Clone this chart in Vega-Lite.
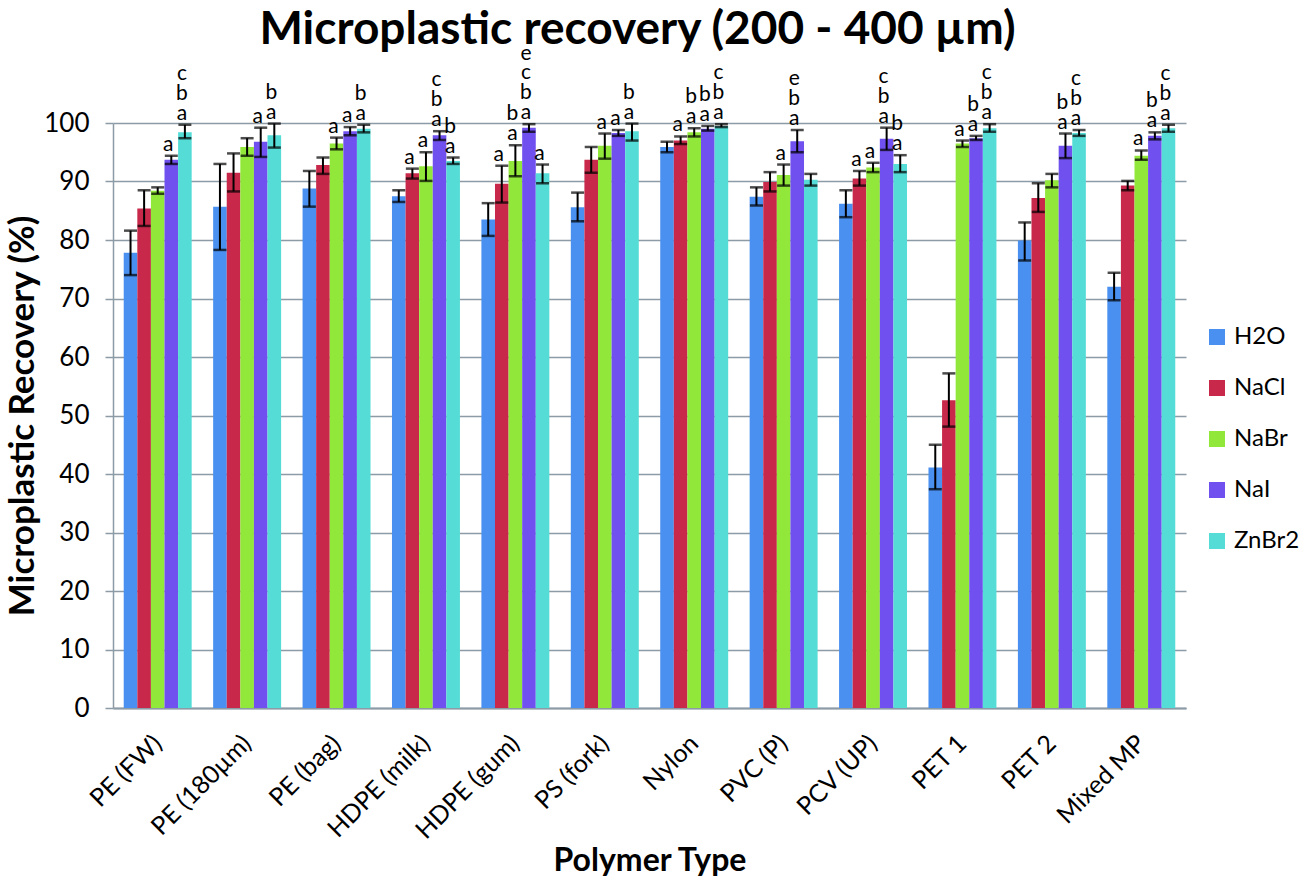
{
  "$schema": "https://vega.github.io/schema/vega-lite/v6.json",
  "width": 1073,
  "height": 585,
  "autosize": {"type": "none"},
  "padding": {"left": 113, "top": 123, "right": 113, "bottom": 174},
  "background": "white",
  "config": {"font": "Lato", "view": {"stroke": null}},
  "title": {
    "text": "Microplastic recovery (200 - 400 µm)",
    "fontSize": 46,
    "fontWeight": "bold",
    "color": "black",
    "anchor": "middle",
    "baseline": "alphabetic",
    "offset": -47,
    "dx": -12
  },
  "data": {
    "values": [
      {"cat": "PE (FW)", "sol": "H2O", "v": 77.8, "lo": 74.0, "hi": 81.6, "s1": "", "s2": "", "s3": "", "s4": ""},
      {"cat": "PE (FW)", "sol": "NaCl", "v": 85.4, "lo": 82.4, "hi": 88.5, "s1": "", "s2": "", "s3": "", "s4": ""},
      {"cat": "PE (FW)", "sol": "NaBr", "v": 88.4, "lo": 87.9, "hi": 89.0, "s1": "", "s2": "", "s3": "", "s4": ""},
      {"cat": "PE (FW)", "sol": "NaI", "v": 93.7, "lo": 93.0, "hi": 94.4, "s1": "a", "s2": "", "s3": "", "s4": ""},
      {"cat": "PE (FW)", "sol": "ZnBr2", "v": 98.4, "lo": 97.4, "hi": 99.7, "s1": "a", "s2": "b", "s3": "c", "s4": ""},
      {"cat": "PE (180µm)", "sol": "H2O", "v": 85.7, "lo": 78.3, "hi": 93.0, "s1": "", "s2": "", "s3": "", "s4": ""},
      {"cat": "PE (180µm)", "sol": "NaCl", "v": 91.5, "lo": 88.3, "hi": 94.8, "s1": "", "s2": "", "s3": "", "s4": ""},
      {"cat": "PE (180µm)", "sol": "NaBr", "v": 95.9, "lo": 94.4, "hi": 97.4, "s1": "", "s2": "", "s3": "", "s4": ""},
      {"cat": "PE (180µm)", "sol": "NaI", "v": 96.8, "lo": 94.2, "hi": 99.2, "s1": "a", "s2": "", "s3": "", "s4": ""},
      {"cat": "PE (180µm)", "sol": "ZnBr2", "v": 97.9, "lo": 95.8, "hi": 99.9, "s1": "a", "s2": "b", "s3": "", "s4": ""},
      {"cat": "PE (bag)", "sol": "H2O", "v": 88.8, "lo": 85.7, "hi": 91.8, "s1": "", "s2": "", "s3": "", "s4": ""},
      {"cat": "PE (bag)", "sol": "NaCl", "v": 92.8, "lo": 91.3, "hi": 94.1, "s1": "", "s2": "", "s3": "", "s4": ""},
      {"cat": "PE (bag)", "sol": "NaBr", "v": 96.5, "lo": 95.5, "hi": 97.5, "s1": "a", "s2": "", "s3": "", "s4": ""},
      {"cat": "PE (bag)", "sol": "NaI", "v": 98.6, "lo": 97.9, "hi": 99.3, "s1": "a", "s2": "", "s3": "", "s4": ""},
      {"cat": "PE (bag)", "sol": "ZnBr2", "v": 99.0, "lo": 98.4, "hi": 99.7, "s1": "a", "s2": "b", "s3": "", "s4": ""},
      {"cat": "HDPE (milk)", "sol": "H2O", "v": 87.5, "lo": 86.5, "hi": 88.5, "s1": "", "s2": "", "s3": "", "s4": ""},
      {"cat": "HDPE (milk)", "sol": "NaCl", "v": 91.4, "lo": 90.5, "hi": 92.2, "s1": "a", "s2": "", "s3": "", "s4": ""},
      {"cat": "HDPE (milk)", "sol": "NaBr", "v": 92.6, "lo": 90.1, "hi": 95.0, "s1": "a", "s2": "", "s3": "", "s4": ""},
      {"cat": "HDPE (milk)", "sol": "NaI", "v": 97.9, "lo": 97.1, "hi": 98.6, "s1": "a", "s2": "b", "s3": "c", "s4": ""},
      {"cat": "HDPE (milk)", "sol": "ZnBr2", "v": 93.5, "lo": 93.0, "hi": 94.1, "s1": "a", "s2": "b", "s3": "", "s4": ""},
      {"cat": "HDPE (gum)", "sol": "H2O", "v": 83.5, "lo": 80.7, "hi": 86.3, "s1": "", "s2": "", "s3": "", "s4": ""},
      {"cat": "HDPE (gum)", "sol": "NaCl", "v": 89.6, "lo": 86.4, "hi": 92.7, "s1": "a", "s2": "", "s3": "", "s4": ""},
      {"cat": "HDPE (gum)", "sol": "NaBr", "v": 93.5, "lo": 90.9, "hi": 96.2, "s1": "a", "s2": "b", "s3": "", "s4": ""},
      {"cat": "HDPE (gum)", "sol": "NaI", "v": 99.2, "lo": 98.5, "hi": 99.8, "s1": "a", "s2": "b", "s3": "c", "s4": "e"},
      {"cat": "HDPE (gum)", "sol": "ZnBr2", "v": 91.4, "lo": 89.7, "hi": 92.9, "s1": "a", "s2": "", "s3": "", "s4": ""},
      {"cat": "PS (fork)", "sol": "H2O", "v": 85.6, "lo": 83.2, "hi": 88.1, "s1": "", "s2": "", "s3": "", "s4": ""},
      {"cat": "PS (fork)", "sol": "NaCl", "v": 93.7, "lo": 91.5, "hi": 95.9, "s1": "", "s2": "", "s3": "", "s4": ""},
      {"cat": "PS (fork)", "sol": "NaBr", "v": 96.1, "lo": 93.9, "hi": 98.2, "s1": "a", "s2": "", "s3": "", "s4": ""},
      {"cat": "PS (fork)", "sol": "NaI", "v": 98.3, "lo": 97.8, "hi": 98.8, "s1": "a", "s2": "", "s3": "", "s4": ""},
      {"cat": "PS (fork)", "sol": "ZnBr2", "v": 98.6, "lo": 97.0, "hi": 99.9, "s1": "a", "s2": "b", "s3": "", "s4": ""},
      {"cat": "Nylon", "sol": "H2O", "v": 95.9, "lo": 95.0, "hi": 96.8, "s1": "", "s2": "", "s3": "", "s4": ""},
      {"cat": "Nylon", "sol": "NaCl", "v": 97.0, "lo": 96.4, "hi": 97.7, "s1": "a", "s2": "", "s3": "", "s4": ""},
      {"cat": "Nylon", "sol": "NaBr", "v": 98.4, "lo": 97.7, "hi": 99.1, "s1": "a", "s2": "b", "s3": "", "s4": ""},
      {"cat": "Nylon", "sol": "NaI", "v": 99.0, "lo": 98.7, "hi": 99.5, "s1": "a", "s2": "b", "s3": "", "s4": ""},
      {"cat": "Nylon", "sol": "ZnBr2", "v": 99.5, "lo": 99.3, "hi": 99.8, "s1": "a", "s2": "b", "s3": "c", "s4": ""},
      {"cat": "PVC (P)", "sol": "H2O", "v": 87.4, "lo": 85.9, "hi": 89.0, "s1": "", "s2": "", "s3": "", "s4": ""},
      {"cat": "PVC (P)", "sol": "NaCl", "v": 89.9, "lo": 88.3, "hi": 91.6, "s1": "", "s2": "", "s3": "", "s4": ""},
      {"cat": "PVC (P)", "sol": "NaBr", "v": 91.1, "lo": 89.3, "hi": 92.9, "s1": "a", "s2": "", "s3": "", "s4": ""},
      {"cat": "PVC (P)", "sol": "NaI", "v": 96.9, "lo": 95.0, "hi": 98.8, "s1": "a", "s2": "b", "s3": "e", "s4": ""},
      {"cat": "PVC (P)", "sol": "ZnBr2", "v": 90.3, "lo": 89.3, "hi": 91.3, "s1": "", "s2": "", "s3": "", "s4": ""},
      {"cat": "PCV (UP)", "sol": "H2O", "v": 86.2, "lo": 83.9, "hi": 88.5, "s1": "", "s2": "", "s3": "", "s4": ""},
      {"cat": "PCV (UP)", "sol": "NaCl", "v": 90.5, "lo": 89.3, "hi": 91.8, "s1": "a", "s2": "", "s3": "", "s4": ""},
      {"cat": "PCV (UP)", "sol": "NaBr", "v": 92.4, "lo": 91.6, "hi": 93.2, "s1": "a", "s2": "", "s3": "", "s4": ""},
      {"cat": "PCV (UP)", "sol": "NaI", "v": 97.3, "lo": 95.4, "hi": 99.2, "s1": "a", "s2": "b", "s3": "c", "s4": ""},
      {"cat": "PCV (UP)", "sol": "ZnBr2", "v": 93.0, "lo": 91.6, "hi": 94.5, "s1": "a", "s2": "b", "s3": "", "s4": ""},
      {"cat": "PET 1", "sol": "H2O", "v": 41.1, "lo": 37.4, "hi": 45.0, "s1": "", "s2": "", "s3": "", "s4": ""},
      {"cat": "PET 1", "sol": "NaCl", "v": 52.6, "lo": 48.1, "hi": 57.2, "s1": "", "s2": "", "s3": "", "s4": ""},
      {"cat": "PET 1", "sol": "NaBr", "v": 96.5, "lo": 95.9, "hi": 97.0, "s1": "a", "s2": "", "s3": "", "s4": ""},
      {"cat": "PET 1", "sol": "NaI", "v": 97.4, "lo": 97.1, "hi": 97.8, "s1": "a", "s2": "b", "s3": "", "s4": ""},
      {"cat": "PET 1", "sol": "ZnBr2", "v": 99.1, "lo": 98.5, "hi": 99.8, "s1": "a", "s2": "b", "s3": "c", "s4": ""},
      {"cat": "PET 2", "sol": "H2O", "v": 79.9, "lo": 76.5, "hi": 83.0, "s1": "", "s2": "", "s3": "", "s4": ""},
      {"cat": "PET 2", "sol": "NaCl", "v": 87.2, "lo": 84.8, "hi": 89.7, "s1": "", "s2": "", "s3": "", "s4": ""},
      {"cat": "PET 2", "sol": "NaBr", "v": 90.2, "lo": 89.0, "hi": 91.3, "s1": "", "s2": "", "s3": "", "s4": ""},
      {"cat": "PET 2", "sol": "NaI", "v": 96.1, "lo": 94.0, "hi": 98.2, "s1": "a", "s2": "b", "s3": "", "s4": ""},
      {"cat": "PET 2", "sol": "ZnBr2", "v": 98.3, "lo": 97.8, "hi": 98.8, "s1": "a", "s2": "b", "s3": "c", "s4": ""},
      {"cat": "Mixed MP", "sol": "H2O", "v": 72.0, "lo": 69.7, "hi": 74.4, "s1": "", "s2": "", "s3": "", "s4": ""},
      {"cat": "Mixed MP", "sol": "NaCl", "v": 89.3, "lo": 88.5, "hi": 90.1, "s1": "", "s2": "", "s3": "", "s4": ""},
      {"cat": "Mixed MP", "sol": "NaBr", "v": 94.4, "lo": 93.7, "hi": 95.3, "s1": "a", "s2": "", "s3": "", "s4": ""},
      {"cat": "Mixed MP", "sol": "NaI", "v": 97.8, "lo": 97.2, "hi": 98.4, "s1": "a", "s2": "b", "s3": "", "s4": ""},
      {"cat": "Mixed MP", "sol": "ZnBr2", "v": 99.1, "lo": 98.5, "hi": 99.7, "s1": "a", "s2": "b", "s3": "c", "s4": ""}
    ]
  },
  "encoding": {
    "x": {
      "field": "cat",
      "type": "nominal",
      "sort": null,
      "scale": {"paddingInner": 0.24, "paddingOuter": 0.12},
      "axis": {
        "title": "Polymer Type",
        "titleFontSize": 32,
        "titleFontWeight": "bold",
        "titleColor": "black",
        "titleY": 137,
        "titleBaseline": "top",
        "labelAngle": -45,
        "labelAlign": "right",
        "labelBaseline": "middle",
        "labelFontSize": 25,
        "labelColor": "black",
        "labelPadding": 31,
        "labelOverlap": false,
        "labelBound": false,
        "ticks": false,
        "tickSize": 0,
        "domainColor": "#8c9ba5",
        "domainWidth": 2
      }
    },
    "xOffset": {"field": "sol", "type": "nominal", "sort": ["H2O", "NaCl", "NaBr", "NaI", "ZnBr2"]}
  },
  "layer": [
    {
      "mark": {"type": "bar"},
      "encoding": {
        "y": {
          "field": "v",
          "type": "quantitative",
          "scale": {"domain": [0, 100], "nice": false},
          "axis": {
            "title": "Microplastic Recovery (%)",
            "titleFontSize": 35,
            "titleFontWeight": "bold",
            "titleColor": "black",
            "titleX": -91,
            "titleY": 292.5,
            "titleBaseline": "middle",
            "values": [0, 10, 20, 30, 40, 50, 60, 70, 80, 90, 100],
            "labelFontSize": 26,
            "labelColor": "black",
            "labelPadding": 16,
            "tickSize": 8,
            "tickColor": "#8c9ba5",
            "tickWidth": 1.5,
            "domainColor": "#8c9ba5",
            "domainWidth": 1.5,
            "grid": true,
            "gridColor": "#8c9ba5",
            "gridWidth": 1.5
          }
        },
        "color": {
          "field": "sol",
          "type": "nominal",
          "scale": {
            "domain": ["H2O", "NaCl", "NaBr", "NaI", "ZnBr2"],
            "range": ["#4a90f0", "#c8294a", "#92e83a", "#7150f0", "#55dcd6"]
          },
          "legend": {
            "orient": "none",
            "legendX": 1092,
            "legendY": 202,
            "title": null,
            "padding": 0,
            "symbolType": "square",
            "symbolSize": 256,
            "symbolStrokeWidth": 0,
            "labelFontSize": 24,
            "labelColor": "black",
            "labelOffset": 5,
            "rowPadding": 27
          }
        }
      }
    },
    {
      "mark": {"type": "rule", "color": "black", "strokeWidth": 2},
      "encoding": {
        "y": {"field": "lo", "type": "quantitative"},
        "y2": {"field": "hi"}
      }
    },
    {
      "mark": {"type": "tick", "orient": "horizontal", "color": "black", "thickness": 2.5, "size": 13},
      "encoding": {"y": {"field": "lo", "type": "quantitative"}}
    },
    {
      "mark": {"type": "tick", "orient": "horizontal", "color": "black", "thickness": 2.5, "size": 13},
      "encoding": {"y": {"field": "hi", "type": "quantitative"}}
    },
    {
      "mark": {"type": "text", "baseline": "bottom", "dy": -1, "dx": -3, "fontSize": 21, "color": "black"},
      "encoding": {"y": {"field": "hi", "type": "quantitative"}, "text": {"field": "s1"}}
    },
    {
      "mark": {"type": "text", "baseline": "bottom", "dy": -21, "dx": -3, "fontSize": 21, "color": "black"},
      "encoding": {"y": {"field": "hi", "type": "quantitative"}, "text": {"field": "s2"}}
    },
    {
      "mark": {"type": "text", "baseline": "bottom", "dy": -41, "dx": -3, "fontSize": 21, "color": "black"},
      "encoding": {"y": {"field": "hi", "type": "quantitative"}, "text": {"field": "s3"}}
    },
    {
      "mark": {"type": "text", "baseline": "bottom", "dy": -60, "dx": -3, "fontSize": 21, "color": "black"},
      "encoding": {"y": {"field": "hi", "type": "quantitative"}, "text": {"field": "s4"}}
    }
  ]
}
